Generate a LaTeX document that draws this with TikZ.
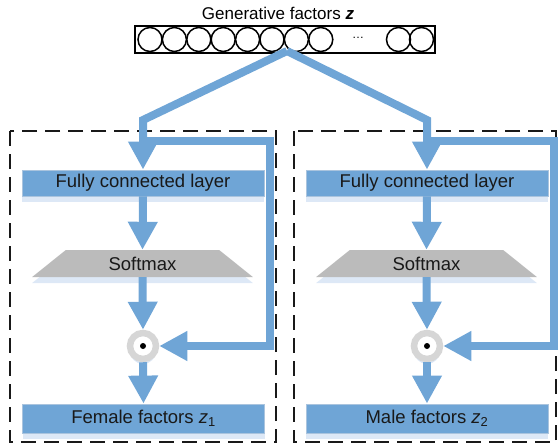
\documentclass[tikz,border=0pt]{standalone}
\usepackage{fontspec}
\setmainfont{Liberation Sans}
\usetikzlibrary{arrows.meta,shadows,shapes.geometric}
\definecolor{bl}{RGB}{111,165,214}
\definecolor{blb}{RGB}{170,196,222}
\definecolor{shd}{RGB}{221,232,246}
\definecolor{smg}{RGB}{187,187,187}
\definecolor{ringc}{RGB}{214,214,214}
\begin{document}
\begin{tikzpicture}[x=1pt,y=-1pt,
  lab/.style={font=\fontsize{18.5}{20}\selectfont, text=black!90},
  bluebox/.style={lab, fill=bl, draw=blb, line width=0.8pt, minimum width=242pt,
     minimum height=26pt, inner sep=0pt,
     drop shadow={shadow xshift=0pt, shadow yshift=-6pt, fill=shd, opacity=1}},
  softbox/.style={lab, trapezium, trapezium angle=51, trapezium stretches=true,
     minimum width=221pt, minimum height=27pt, fill=smg,
     drop shadow={shadow xshift=0pt, shadow yshift=-6pt, fill=shd, opacity=1}},
  opnode/.style={circle, draw=ringc, fill=white, line width=6.5pt, minimum size=26pt,
     inner sep=0pt,
     drop shadow={shadow xshift=0pt, shadow yshift=-5pt, fill=shd, opacity=1}},
  flow/.style={draw=bl, line width=8pt, line join=miter},
  arr/.style={flow, -{Triangle[width=28pt,length=28pt]}},
  group/.style={draw=black!90, line width=2pt, dash pattern=on 15pt off 8pt},
  vecbox/.style={draw=black, line width=1.5pt, minimum width=300pt, minimum height=27pt, inner sep=0pt},
  unit/.style={draw=black, line width=1.5pt}
]
\useasboundingbox (0,0) rectangle (558,447);

% groups
\draw[group] (10,131) rectangle (276,442);
\draw[group] (294,131) rectangle (556,442);

% latent vector
\node[font=\fontsize{17}{19}\selectfont] (title) at (278,13) {Generative factors \textbf{\textit{z}}};
\node[vecbox] (vec) at (285,39.5) {};
\foreach \cx in {150,174.4,198.8,223.2,247.6,272,296.4,320.8,398.5,421.5}
  \draw[unit] (\cx,39.5) circle[radius=12pt];
\node[font=\fontsize{12}{12}\selectfont] (dots) at (358,38) {\ldots};

% nodes left
\node[bluebox] (fcL) at (143,183) {Fully connected layer};
\node[softbox] (smL) at (142.5,263.5) {Softmax};
\node[opnode] (opL) at (143,346) {};
\fill[black] (opL.center) circle[radius=3pt];
\node[bluebox, minimum height=29pt] (outL) at (143.5,418.5) {Female factors \textit{z}\textsubscript{1}};

% nodes right
\node[bluebox] (fcR) at (427,183) {Fully connected layer};
\node[softbox] (smR) at (426.5,263.5) {Softmax};
\node[opnode] (opR) at (427,346) {};
\fill[black] (opR.center) circle[radius=3pt];
\node[bluebox, minimum height=29pt] (outR) at (427,418.5) {Male factors \textit{z}\textsubscript{2}};

% coordinates
\coordinate (apex) at (287,51);
\coordinate (cL) at (143,120);
\coordinate (cR) at (427,120);
\coordinate (jL) at (143,141);
\coordinate (tL) at (270,141);
\coordinate (bL) at (270,346);
\coordinate (jR) at (427,141);
\coordinate (tR) at (554,141);
\coordinate (bR) at (554,346);

% connectors
\draw[arr] (apex) -- (cL) -- (fcL.north);
\draw[arr] (apex) -- (cR) -- (fcR.north);
\draw[arr] (jL) -- (tL) -- (bL) -- (opL.east);
\draw[arr] (jR) -- (tR) -- (bR) -- (opR.east);
\draw[arr] (fcL.south) -- (smL.north);
\draw[arr] (fcR.south) -- (smR.north);
\draw[arr] (smL.south) -- (opL.north);
\draw[arr] (smR.south) -- (opR.north);
\draw[arr] (opL.south) -- (outL.north);
\draw[arr] (opR.south) -- (outR.north);
\end{tikzpicture}
\end{document}
